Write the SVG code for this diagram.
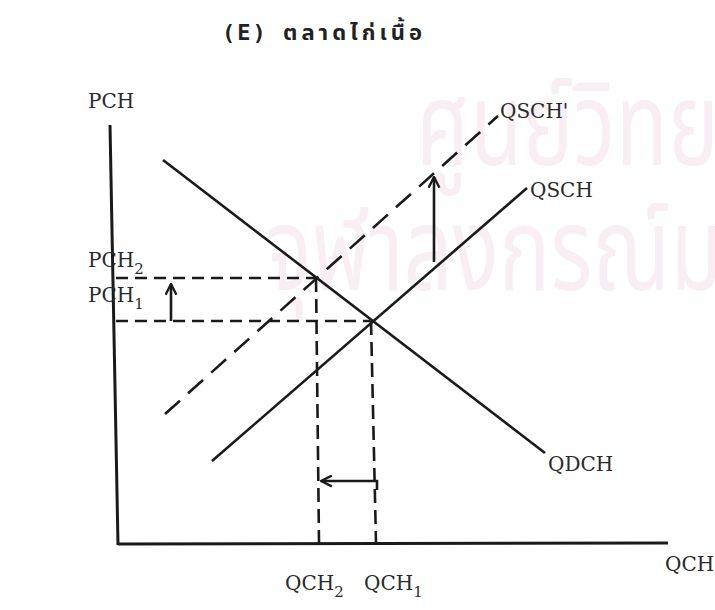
<svg xmlns="http://www.w3.org/2000/svg" width="715" height="610" viewBox="0 0 715 610">
<style>
.ln{stroke:#1a1a1a;stroke-width:2.6;fill:none;stroke-linecap:butt}
.dh{stroke:#1a1a1a;stroke-width:2.6;fill:none;stroke-dasharray:12 7}
.dv{stroke:#1a1a1a;stroke-width:2.6;fill:none;stroke-dasharray:14 7}
.ds{stroke:#1a1a1a;stroke-width:2.6;fill:none;stroke-dasharray:20 11}
.ax{stroke:#1a1a1a;stroke-width:3;fill:none}
.lb{font-family:"DejaVu Serif","Liberation Serif",serif;font-size:20px;fill:#2a2a2a}
.sb{font-size:15px}
.wm{font-family:"Noto Sans Thai","Noto Sans","DejaVu Sans",sans-serif;font-size:116px;fill:#f8eef3}
.tt{font-family:"DejaVu Sans Mono","Noto Sans Thai","Noto Sans",sans-serif;font-size:22px;fill:#222;font-weight:bold}
</style>
<defs>
<marker id="ah" viewBox="0 0 12 12" refX="11" refY="6" markerWidth="5" markerHeight="5" orient="auto" markerUnits="strokeWidth">
<path d="M1,1 L11,6 L1,11" fill="none" stroke="#1a1a1a" stroke-width="2.2"/>
</marker>
</defs>
<rect width="715" height="610" fill="#ffffff"/>
<g id="watermark">
<text class="wm" transform="translate(416,165) scale(0.74,1)">ศูนย์วิทยท</text>
<text class="wm" transform="translate(266,290) scale(0.74,1)">จุฬาลงกรณ์ม</text>
</g>
<g id="title"><text class="tt" x="222" y="40"><tspan letter-spacing="2">(E)</tspan><tspan x="283" letter-spacing="4">ตลาดไก่เนื้อ</tspan></text></g>
<g id="axes">
<line class="ax" x1="110" y1="125" x2="118" y2="545"/>
<line class="ax" x1="118" y1="544" x2="668" y2="543"/>
<text class="lb" x="88" y="108">PCH</text>
<text class="lb" x="665" y="571">QCH</text>
</g>
<g id="connectors">
<line class="dh" x1="116" y1="278" x2="315" y2="278"/>
<line class="dh" x1="116" y1="321" x2="370" y2="321"/>
<line class="dv" x1="316" y1="278" x2="319" y2="543"/>
<line class="dv" x1="371" y1="321" x2="376" y2="543"/>
<line class="ln" x1="171" y1="321" x2="171" y2="284" marker-end="url(#ah)"/>
<line class="ln" x1="434" y1="262" x2="434" y2="177" marker-end="url(#ah)"/>
<polyline class="ln" points="377,490 377,481 321,481" marker-end="url(#ah)"/>
</g>
<g id="QDCH">
<line class="ln" x1="163" y1="160" x2="545" y2="453"/>
<text class="lb" x="548" y="471">QDCH</text>
</g>
<g id="QSCH">
<line class="ln" x1="212" y1="461" x2="527" y2="188"/>
<text class="lb" x="530" y="197">QSCH</text>
</g>
<g id="QSCHp">
<line class="ds" x1="165" y1="414" x2="498" y2="116"/>
<text class="lb" x="500" y="118">QSCH'</text>
</g>
<g id="price-labels">
<text class="lb" x="88" y="267">PCH<tspan class="sb" dy="7">2</tspan></text>
<text class="lb" x="88" y="302">PCH<tspan class="sb" dy="7">1</tspan></text>
</g>
<g id="qty-labels">
<text class="lb" x="285" y="590">QCH<tspan class="sb" dy="7">2</tspan></text>
<text class="lb" x="364" y="590">QCH<tspan class="sb" dy="7">1</tspan></text>
</g>
</svg>
